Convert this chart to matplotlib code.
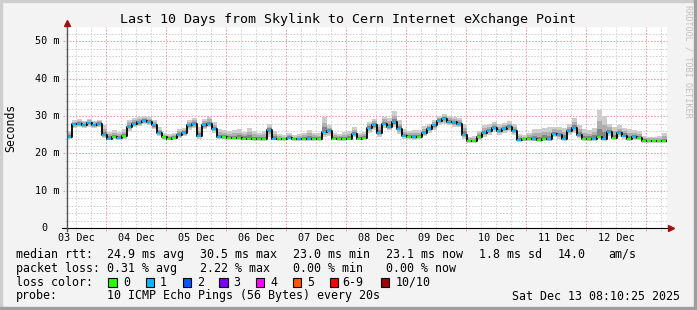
import datetime as dt

import matplotlib
matplotlib.use('Agg')
import matplotlib.pyplot as plt
import matplotlib.dates as mdates
import matplotlib.transforms as mtransforms
from matplotlib.patches import Rectangle
import numpy as np

W, H = 697, 310
MONO = 'DejaVu Sans Mono'

start = dt.datetime(2025, 12, 3, 8, 10, 25)
end = dt.datetime(2025, 12, 13, 8, 10, 25)
step_hours = 2

# median rtt per 2h step (ms)
median_ms = [
    24.5, 27.8, 28.0, 27.6, 28.2, 27.5, 28.0, 25.0, 24.0, 24.5,
    24.2, 24.6, 27.2, 28.0, 28.3, 28.8, 28.5, 27.5, 25.5, 24.3,
    24.0, 24.2, 25.0, 25.5, 27.5, 27.8, 24.8, 27.5, 28.0, 26.5,
    24.4, 24.3, 24.2, 24.2, 24.1, 24.0, 24.0, 23.9, 23.9, 23.9,
    26.3, 24.0, 23.8, 23.8, 24.2, 23.8, 23.8, 23.8, 23.9, 23.8,
    23.9, 25.8, 26.0, 24.0, 23.9, 23.9, 24.0, 25.3, 24.0, 24.2,
    26.8, 27.5, 25.5, 28.0, 27.2, 28.3, 26.5, 24.8, 24.4, 24.3,
    24.5, 25.5, 26.5, 27.5, 28.8, 29.3, 28.5, 28.3, 28.0, 25.0,
    23.3, 23.3, 24.5, 25.5, 26.0, 26.8, 26.0, 26.5, 27.0, 26.0,
    23.6, 23.8, 24.0, 23.8, 23.6, 24.0, 23.8, 25.3, 25.0, 24.0,
    26.0, 26.8, 25.0, 24.0, 23.8, 24.0, 24.5, 24.0, 25.8, 24.2,
    25.4, 24.8, 24.0, 24.3, 24.2, 23.4, 23.3, 23.3, 23.3, 23.3,
]
# upper edge of the smoke (ms)
smoke_hi_ms = [
    26.0, 29.0, 29.2, 28.8, 29.3, 28.8, 29.0, 27.5, 25.8, 26.3,
    25.8, 26.5, 29.0, 29.5, 29.8, 30.0, 29.8, 29.0, 27.0, 25.5,
    25.3, 25.6, 26.5, 26.8, 29.0, 29.5, 27.0, 29.3, 29.8, 28.3,
    26.5, 26.3, 26.0, 26.2, 26.5, 25.8, 26.8, 26.0, 25.6, 26.0,
    27.8, 26.0, 25.2, 25.0, 25.6, 25.0, 25.3, 25.5, 26.3, 25.5,
    25.4, 29.8, 27.5, 25.5, 25.3, 25.8, 26.0, 27.0, 25.5, 25.8,
    28.5, 29.3, 28.0, 29.8, 29.5, 31.3, 29.0, 26.5, 26.0, 26.2,
    26.3, 27.3, 28.0, 29.0, 30.0, 30.5, 30.0, 29.8, 29.5, 28.0,
    24.5, 24.6, 26.0, 27.5, 28.0, 28.5, 28.0, 28.2, 28.6, 28.0,
    25.2, 25.0, 25.5, 26.5, 26.5, 26.8, 27.0, 27.2, 27.0, 26.8,
    28.0, 29.5, 27.5, 26.5, 26.3, 26.8, 31.6, 30.0, 27.8, 27.0,
    27.5, 26.8, 26.5, 26.3, 26.0, 24.6, 24.5, 24.5, 24.6, 25.5,
]
# lower edge of the smoke (ms)
smoke_lo_ms = [
    23.8, 26.8, 27.0, 26.8, 27.2, 26.8, 27.0, 24.2, 23.6, 23.8,
    23.7, 23.8, 26.0, 27.0, 27.3, 27.8, 27.5, 26.5, 24.6, 23.7,
    23.5, 23.6, 24.2, 24.6, 26.3, 26.8, 24.0, 26.5, 27.0, 25.5,
    23.8, 23.8, 23.7, 23.6, 23.6, 23.5, 23.5, 23.4, 23.4, 23.4,
    24.5, 23.5, 23.3, 23.3, 23.6, 23.3, 23.3, 23.3, 23.4, 23.3,
    23.4, 24.5, 24.8, 23.5, 23.4, 23.4, 23.5, 24.3, 23.5, 23.6,
    25.5, 26.3, 24.5, 26.8, 26.2, 27.0, 25.3, 24.0, 23.8, 23.7,
    23.8, 24.6, 25.5, 26.4, 27.5, 28.0, 27.5, 27.2, 27.0, 24.0,
    22.8, 22.8, 23.6, 24.5, 25.0, 25.8, 25.0, 25.5, 26.0, 25.0,
    23.0, 23.2, 23.4, 23.2, 23.0, 23.4, 23.2, 24.3, 24.0, 23.4,
    25.0, 25.6, 24.2, 23.4, 23.2, 23.4, 23.8, 23.4, 24.8, 23.6,
    24.5, 24.0, 23.4, 23.6, 23.5, 22.9, 22.8, 22.8, 22.8, 22.8,
]
# lost pings out of 10 per step
loss = [
    1, 1, 1, 1, 1, 1, 1, 1, 1, 0,
    1, 0, 1, 1, 1, 1, 1, 1, 1, 0,
    0, 0, 1, 1, 1, 1, 1, 1, 1, 1,
    1, 0, 0, 0, 0, 0, 0, 0, 0, 0,
    1, 1, 0, 0, 1, 0, 1, 0, 1, 0,
    0, 1, 1, 0, 0, 0, 0, 1, 0, 0,
    1, 1, 1, 1, 1, 1, 1, 1, 0, 1,
    0, 1, 1, 1, 1, 1, 1, 1, 1, 1,
    0, 0, 0, 1, 1, 1, 1, 1, 1, 1,
    1, 0, 0, 1, 0, 0, 1, 1, 1, 1,
    1, 1, 1, 0, 0, 1, 0, 1, 1, 0,
    1, 1, 0, 1, 0, 0, 0, 0, 0, 0,
]

loss_labels = ['0', '1', '2', '3', '4', '5', '6-9', '10/10']
loss_colors = ['#26ff00', '#00b8ff', '#0059ff', '#7e00ff',
               '#ff00ff', '#ff5500', '#ff0000', '#a10000']

y_ticks = [0, 10, 20, 30, 40, 50]
y_tick_labels = ['0', '10 m', '20 m', '30 m', '40 m', '50 m']

legend_rows = [
    [(16, 'median rtt:'), (107, '24.9 ms avg'), (200, '30.5 ms max'),
     (293, '23.0 ms min'), (386, '23.1 ms now'), (479, '1.8 ms sd'),
     (558, '14.0'), (608, 'am/s')],
    [(16, 'packet loss:'), (107, '0.31 % avg'), (200, '2.22 % max'),
     (293, '0.00 % min'), (386, '0.00 % now')],
]
probe_text = '10 ICMP Echo Pings (56 Bytes) every 20s'
stamp_text = 'Sat Dec 13 08:10:25 2025'

fig = plt.figure(figsize=(W / 100, H / 100), dpi=100)
fig.patch.set_facecolor('#f3f3f3')

# 3d frame like rrdtool
fig.patches.append(Rectangle((0, 1 - 2 / H), 1, 2 / H, transform=fig.transFigure,
                             color='#cecece', zorder=0))
fig.patches.append(Rectangle((0, 0), 2 / W, 1, transform=fig.transFigure,
                             color='#cecece', zorder=0))
fig.patches.append(Rectangle((0, 0), 1, 3 / H, transform=fig.transFigure,
                             color='#9e9e9e', zorder=0))
fig.patches.append(Rectangle((1 - 3 / W, 0), 3 / W, 1, transform=fig.transFigure,
                             color='#9e9e9e', zorder=0))

left, right, top, bottom = 66.7, 666.7, 27.0, 228.3
ax = fig.add_axes([left / W, 1 - bottom / H, (right - left) / W, (bottom - top) / H])
ax.set_facecolor('white')
for s in ax.spines.values():
    s.set_visible(False)

t0 = mdates.date2num(start)
t1 = mdates.date2num(end)
edges = mdates.date2num([start + dt.timedelta(hours=step_hours * i)
                         for i in range(len(median_ms) + 1)])
ax.set_xlim(t0, t1)
ax.set_ylim(0, 53.8)

# grid
xtrans = mtransforms.blended_transform_factory(ax.transData, ax.transAxes)
ytrans = mtransforms.blended_transform_factory(ax.transAxes, ax.transData)
dash = (0, (1.5, 1.5))
for v in np.arange(2, 54, 2):
    major = v % 10 == 0
    ax.plot([-0.006 if major else -0.003, 1], [v, v], transform=ytrans,
            color='#e6a0a0' if major else '#d2d2d2', lw=0.75, ls=dash,
            clip_on=False, zorder=1)
h = start.replace(hour=12, minute=0, second=0)
while h < end:
    ax.plot([mdates.date2num(h)] * 2, [-0.012, 1], transform=xtrans,
            color='#e6a0a0' if h.hour == 0 else '#d2d2d2', lw=0.75, ls=dash,
            clip_on=False, zorder=1)
    h += dt.timedelta(hours=6)

# smoke
med = np.array(median_ms)
hi = np.array(smoke_hi_ms)
lo = np.array(smoke_lo_ms)
ext = lambda a: np.append(a, a[-1])
for frac, shade in [(1.0, '#cdcdcd'), (0.6, '#aeaeae'), (0.3, '#858585')]:
    ax.fill_between(edges, ext(med - (med - lo) * frac), ext(med + (hi - med) * frac),
                    step='post', color=shade, lw=0, zorder=2)

# median, coloured by loss
ax.step(edges, ext(med), where='post', color='black', lw=1.3, zorder=3)
for i, m in enumerate(med):
    ax.hlines(m, edges[i] + 0.012, edges[i + 1] - 0.012, color=loss_colors[loss[i]],
              lw=1.5, zorder=4, capstyle='butt')

# axes with arrows
ax.plot([-0.008, 1.003], [0, 0], transform=ax.transAxes, color='black', lw=0.8,
        clip_on=False, zorder=5)
ax.plot([0, 0], [-0.014, 1.005], transform=ax.transAxes, color='#555555', lw=1.0,
        clip_on=False, zorder=5)
ax.plot([1.0065], [0], transform=ax.transAxes, marker='>', ms=4.5, color='#a01010',
        mec='#a01010', clip_on=False, zorder=6)
ax.plot([0], [1.02], transform=ax.transAxes, marker='^', ms=4.5, color='#a01010',
        mec='#a01010', clip_on=False, zorder=6)

# tick labels
ax.xaxis.set_major_locator(mdates.HourLocator(byhour=12))
ax.xaxis.set_major_formatter(mdates.DateFormatter('%d %b'))
ax.tick_params(axis='x', length=0, pad=3.2, labelsize=7.3)
for lab in ax.get_xticklabels():
    lab.set_family(MONO)
ax.set_yticks([])
lab_trans = mtransforms.blended_transform_factory(fig.transFigure, ax.transData)
for v, txt in zip(y_ticks, y_tick_labels):
    xr = 59.5 if txt != '0' else 48.0
    ax.text(xr / W, v, txt, transform=lab_trans, ha='right', va='center',
            fontsize=7.3, family=MONO)

fig.text(11 / W, 1 - 128 / H, 'Seconds', rotation=90, ha='center', va='center',
         fontsize=8.3, family=MONO)
fig.text(347.8 / W, 1 - 19 / H, 'Last 10 Days from Skylink to Cern Internet eXchange Point',
         ha='center', va='center', fontsize=9.6, family=MONO)
fig.text(688 / W, 1 - 5 / H, 'RRDTOOL / TOBI OETIKER', rotation=270, ha='center',
         va='top', fontsize=6.1, family=MONO, color='#c0c0c0')

# legend
row_y = [254.3, 268.3, 282.3, 296.0]
for yy, row in zip(row_y, legend_rows):
    for xx, txt in row:
        fig.text(xx / W, 1 - yy / H, txt, ha='left', va='center', fontsize=8.4,
                 family=MONO)

fig.text(16 / W, 1 - row_y[2] / H, 'loss color:', ha='left', va='center',
         fontsize=8.4, family=MONO)
box_x = [108.3, 145.7, 182.7, 219.3, 256.0, 293.0, 330.0, 381.0]
lab_x = [123, 160, 197, 233, 270, 307, 342, 396]
for bx, lx, col, txt in zip(box_x, lab_x, loss_colors, loss_labels):
    fig.patches.append(Rectangle((bx / W, 1 - 286.7 / H), 8.4 / W, 8.4 / H,
                                 transform=fig.transFigure, facecolor=col,
                                 edgecolor='black', lw=0.8))
    fig.text(lx / W, 1 - row_y[2] / H, txt, ha='left', va='center', fontsize=8.4,
             family=MONO)

fig.text(16 / W, 1 - row_y[3] / H, 'probe:', ha='left', va='center', fontsize=8.4,
         family=MONO)
fig.text(107 / W, 1 - row_y[3] / H, probe_text, ha='left', va='center', fontsize=8.4,
         family=MONO)
fig.text(680 / W, 1 - row_y[3] / H, stamp_text, ha='right', va='center', fontsize=8.4,
         family=MONO)

fig.savefig('out.png', dpi=100, facecolor=fig.get_facecolor())
